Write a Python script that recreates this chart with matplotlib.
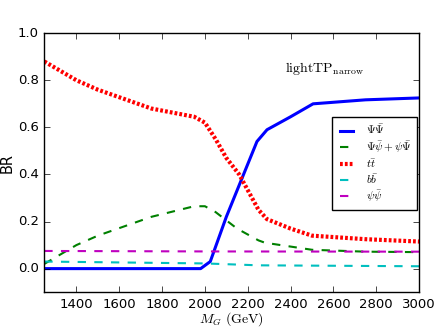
import matplotlib
matplotlib.use("Agg")
import matplotlib.pyplot as plt

plt.style.use("classic")
plt.rcParams["mathtext.fontset"] = "cm"

# branching ratios vs M_G
m_big = [1250, 1500, 1750, 1980, 2025, 2100, 2243, 2290, 2400, 2505, 2750, 3000]
br_big = [0.0, 0.0, 0.0, 0.0, 0.03, 0.22, 0.54, 0.59, 0.645, 0.70, 0.717, 0.725]

m_mix = [1250, 1400, 1500, 1750, 1950, 2000, 2050, 2150, 2250, 2280, 2500, 2750, 3000]
br_mix = [0.02, 0.10, 0.14, 0.22, 0.265, 0.265, 0.24, 0.17, 0.12, 0.11, 0.08, 0.072, 0.07]

m_tt = [1250, 1400, 1500, 1750, 1950, 2000, 2050, 2100, 2160, 2250, 2290, 2400, 2500, 2750, 3000]
br_tt = [0.88, 0.80, 0.76, 0.68, 0.645, 0.62, 0.55, 0.47, 0.40, 0.25, 0.21, 0.17, 0.14, 0.125, 0.115]

m_bb = [1250, 2000, 2250, 3000]
br_bb = [0.030, 0.022, 0.014, 0.010]

m_pp = [1250, 2000, 3000]
br_pp = [0.075, 0.073, 0.072]

fig, ax = plt.subplots(figsize=(4.43, 3.32), dpi=100)
ax.plot(m_big, br_big, color="b", lw=2.2, ls="-", label=r"$\Psi\bar{\Psi}$")
ax.plot(m_mix, br_mix, color="g", lw=1.5, ls="--", label=r"$\Psi\bar{\psi}+\psi\bar{\Psi}$")
ax.plot(m_tt, br_tt, color="r", lw=3, ls="--", dashes=(2, 1.5), label=r"$t\bar{t}$")
ax.plot(m_bb, br_bb, color="c", lw=1.5, ls="--", label=r"$b\bar{b}$")
ax.plot(m_pp, br_pp, color="m", lw=1.5, ls="--", label=r"$\psi\bar{\psi}$")

ax.set_xlim(1250, 3000)
ax.set_ylim(-0.1, 1.0)
ax.set_xticks([1400, 1600, 1800, 2000, 2200, 2400, 2600, 2800, 3000])
ax.set_yticks([0.0, 0.2, 0.4, 0.6, 0.8, 1.0])
ax.tick_params(labelsize=9.5, pad=4)
ax.set_xlabel(r"$M_G\ (\mathrm{GeV})$", fontsize=10, labelpad=0)
ax.set_ylabel("BR", fontsize=10.5)
ax.yaxis.set_label_coords(-0.08, 0.5)
ax.text(2560, 0.85, r"$\mathrm{lightTP}_{\mathrm{narrow}}$", fontsize=10,
        ha="center", va="center")
ax.legend(loc="upper right", bbox_to_anchor=(0.995, 0.676), fontsize=8, frameon=True,
          handlelength=1.7, handletextpad=0.9, labelspacing=0.22, borderpad=0.5,
          borderaxespad=0.0)

fig.subplots_adjust(left=0.10, right=0.946, top=0.90, bottom=0.12)
fig.savefig("out.png", dpi=100)
